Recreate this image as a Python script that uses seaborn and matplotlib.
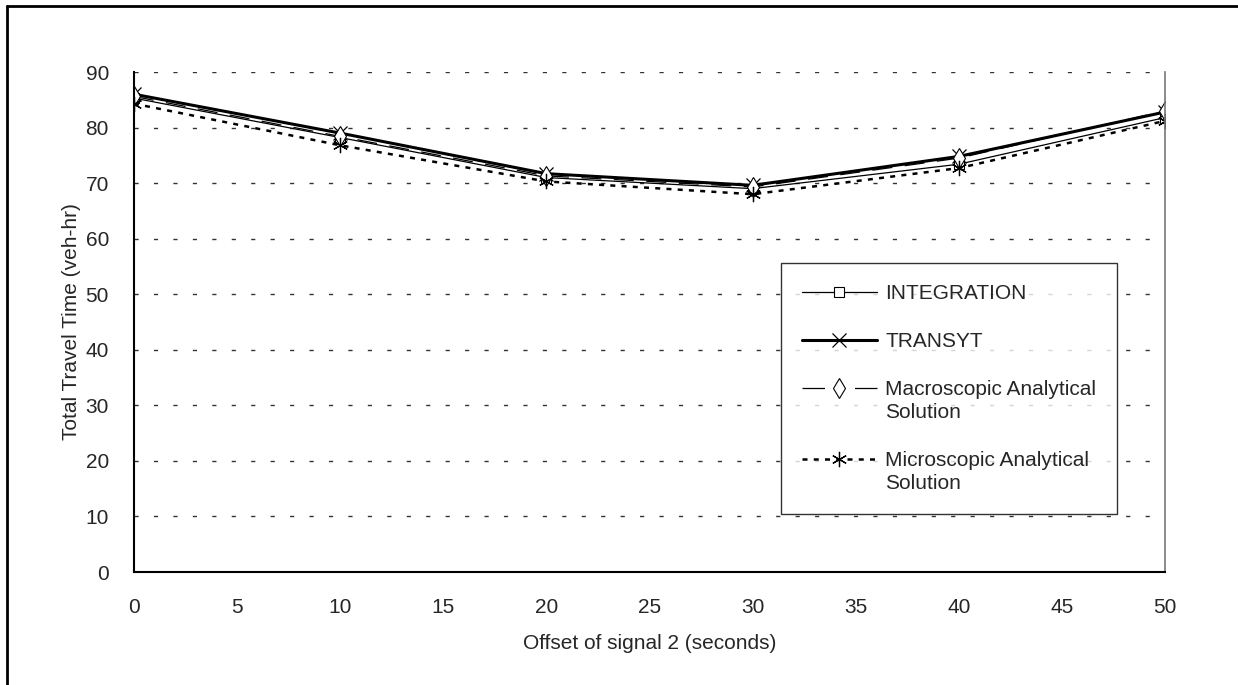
import numpy as np
import pandas as pd
import matplotlib
matplotlib.use("Agg")
import matplotlib.pyplot as plt
from matplotlib.lines import Line2D
from matplotlib.legend_handler import HandlerLine2D
import seaborn as sns

# data
offset = [0, 10, 20, 30, 40, 50]
integration = [85.3, 78.2, 71.0, 69.0, 73.4, 81.8]
transyt = [86.0, 79.0, 71.7, 69.6, 74.8, 82.8]
macro = [85.6, 78.4, 71.3, 69.3, 74.5, 83.0]
micro = [84.3, 76.8, 70.3, 68.0, 72.7, 81.2]

FS = 15

sns.set_style("white")
plt.rcParams['font.family'] = ['Liberation Sans', 'DejaVu Sans']

fig = plt.figure(figsize=(12.38, 6.85), dpi=100)
ax = fig.add_axes([134 / 1238, 1 - 572 / 685, 1031 / 1238, 500 / 685])


def draw(y, label, **kw):
    n = len(ax.lines)
    sns.lineplot(x=offset, y=y, ax=ax, color='black', label=label,
                 mec='black', **kw)
    return ax.lines[n]


l_int = draw(integration, 'INTEGRATION', lw=0.9, marker='s', ms=7,
             mfc='white', mew=0.8)
l_tr = draw(transyt, 'TRANSYT', lw=2.2, marker='x', ms=10, mew=0.9)
l_mac = draw(macro, 'Macroscopic Analytical\nSolution', lw=0.9,
             marker='d', ms=10, mfc='white', mew=0.8)
l_mac.set_dashes([16, 10])
l_mic = draw(micro, 'Microscopic Analytical\nSolution', lw=1.8,
             marker=(6, 2, 0), ms=11, mew=0.9)
l_mic.set_dashes([2, 2.5])

ax.set_xlim(0, 50)
ax.set_ylim(0, 90)
ax.set_xticks(range(0, 51, 5))
ax.set_yticks(range(0, 91, 10))

for yv in range(10, 91, 10):
    ax.axhline(yv, color='#333333', lw=1.0, ls=(0, (3, 11)), zorder=0)

ax.spines['top'].set_visible(False)
ax.spines['right'].set_color('#777777')
ax.spines['right'].set_linewidth(1.2)
ax.spines['left'].set_color('black')
ax.spines['left'].set_linewidth(1.5)
ax.spines['bottom'].set_color('black')
ax.spines['bottom'].set_linewidth(1.5)

ax.tick_params(axis='both', direction='inout', length=8, width=1,
               color='black', labelsize=FS, pad=15)
ax.tick_params(axis='y', pad=14)

ax.set_xlabel('Offset of signal 2 (seconds)', fontsize=FS, labelpad=12)
ax.set_ylabel('Total Travel Time (veh-hr)', fontsize=FS, labelpad=3)


class FirstLineHandler(HandlerLine2D):
    # put the handle next to the first line of a two-line label
    def __init__(self, shift=0.0, dashes=None, **kw):
        super().__init__(**kw)
        self.shift = shift
        self.dashes = dashes

    def create_artists(self, legend, orig_handle, xdescent, ydescent,
                       width, height, fontsize, trans):
        arts = super().create_artists(legend, orig_handle, xdescent,
                                      ydescent - 2 * self.shift * fontsize,
                                      width, height, fontsize, trans)
        if self.dashes is not None:
            arts[0].set_linestyle((0, self.dashes))
        return arts


leg = ax.legend(loc='upper left', bbox_to_anchor=(0.6276, 0.618),
                borderaxespad=0, frameon=True, fancybox=False,
                edgecolor='black', fontsize=FS, handlelength=3.6,
                handletextpad=0.4, labelspacing=1.4, borderpad=1.0,
                handler_map={l_mac: FirstLineHandler(0.62, dashes=(18, 24)),
                             l_mic: FirstLineHandler(0.62)})
for t in leg.get_texts():
    t.set_linespacing(1.25)
leg.get_frame().set_linewidth(1.0)

# outer frame around the chart
fig.add_artist(Line2D([7 / 1238, 7 / 1238], [0, 1 - 6 / 685],
                      transform=fig.transFigure, color='black', lw=2))
fig.add_artist(Line2D([7 / 1238, 1], [1 - 6 / 685, 1 - 6 / 685],
                      transform=fig.transFigure, color='black', lw=2))

fig.savefig('out.png', dpi=100)
